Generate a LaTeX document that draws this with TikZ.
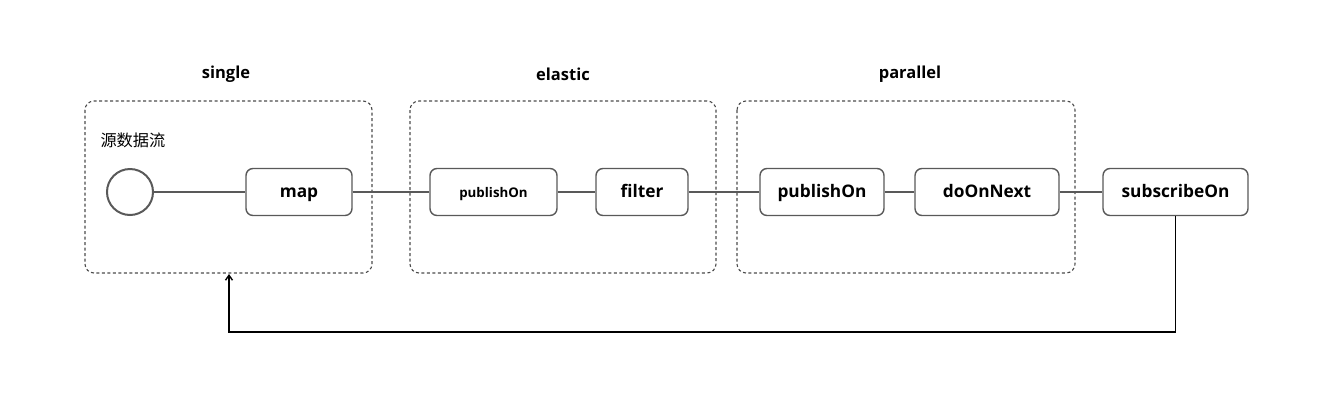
\documentclass[tikz,border=0pt]{standalone}
\usepackage{fontspec}
\setmainfont{Open Sans}
\newfontfamily\cjk{Noto Sans CJK SC}
\usetikzlibrary{arrows.meta}
\begin{document}
\begin{tikzpicture}[x=1pt,y=-1pt,
  grp/.style={draw=black!70,dashed,dash pattern=on 3pt off 2.5pt,line width=1.1pt,rounded corners=9pt},
  op/.style={draw=black!65,line width=1.4pt,rounded corners=7pt,fill=white,minimum height=47pt,inner sep=0pt,text height=12.5pt,text depth=1.5pt,font=\bfseries\fontsize{17.3}{20}\selectfont},
  link/.style={draw=black!65,line width=1.6pt},
  ttl/.style={font=\bfseries\fontsize{16.5}{19}\selectfont}]
\useasboundingbox (0,0) rectangle (1330,400);
% groups
\draw[grp] (85,101) rectangle (372,273);
\draw[grp] (410,101) rectangle (716,273);
\draw[grp] (737,101) rectangle (1075,273);
\node[ttl] (tsingle) at (226,74) {single};
\node[ttl] (telastic) at (563,74) {elastic};
\node[ttl] (tparallel) at (910,74) {parallel};
\node[font=\cjk\fontsize{16.2}{19}\selectfont,anchor=west] (src) at (97,140) {源数据流};
% nodes
\node[draw=black!65,line width=2pt,circle,minimum size=46pt,inner sep=0pt] (c) at (130,192) {};
\node[op,minimum width=106pt] (map) at (299,192) {map};
\node[op,minimum width=127pt,text height=10pt,text depth=0pt,font=\bfseries\fontsize{13.3}{16}\selectfont] (pub1) at (493.5,192) {publishOn};
\node[op,minimum width=92pt] (filter) at (642,192) {filter};
\node[op,minimum width=124pt] (pub2) at (822,192) {publishOn};
\node[op,minimum width=144pt] (don) at (987,192) {doOnNext};
\node[op,minimum width=145pt] (sub) at (1175.5,192) {subscribeOn};
% links
\draw[link] (c) -- (map);
\draw[link] (map) -- (pub1);
\draw[link] (pub1) -- (filter);
\draw[link] (filter) -- (pub2);
\draw[link] (pub2) -- (don);
\draw[link] (don) -- (sub);
\coordinate (ret) at (229,274);
\draw[line width=1.4pt,-{Straight Barb[length=5pt,width=7pt]}] (sub.south) |- (229,332) -- (ret);
\end{tikzpicture}
\end{document}
